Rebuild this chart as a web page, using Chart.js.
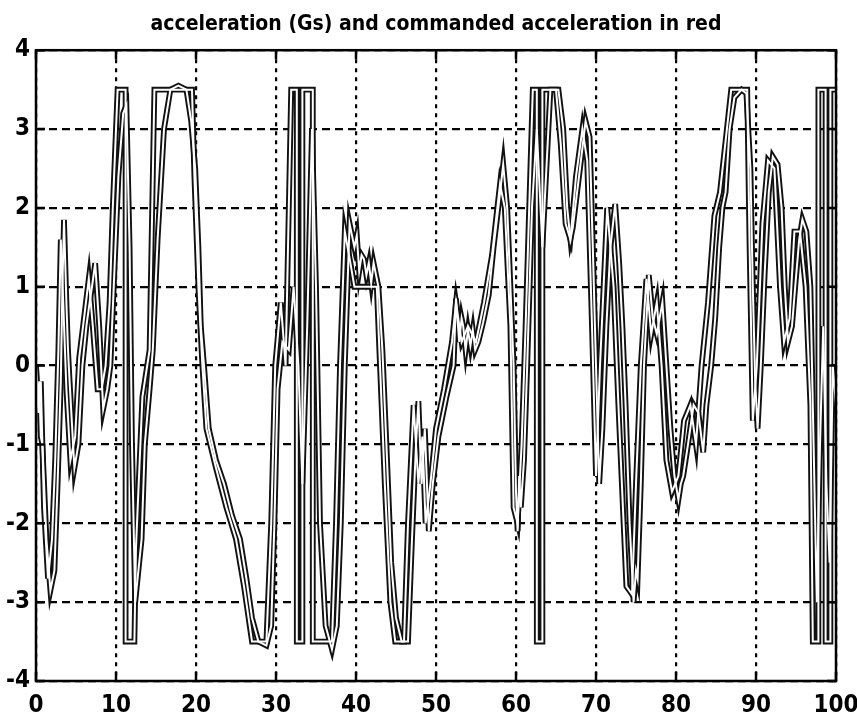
<!DOCTYPE html>
<html>
<head>
<meta charset="utf-8">
<script src="https://cdn.jsdelivr.net/npm/chart.js@4"></script>
<style>
  html, body { margin: 0; padding: 0; background: #fff; }
  #wrap { width: 857px; height: 717px; }
</style>
</head>
<body>
<div id="wrap"><canvas id="chart" width="857" height="717"></canvas></div>
<script>
const titleText = 'acceleration (Gs) and commanded acceleration in red';
const xTicks = [0, 10, 20, 30, 40, 50, 60, 70, 80, 90, 100];
const yTicks = [-4, -3, -2, -1, 0, 1, 2, 3, 4];

// commanded acceleration (saturates at +/-3.5)
const cmdX = [0, 0.3, 0.6, 1.0, 1.5, 2.0, 2.4, 2.8, 3.1, 3.4, 3.8, 4.3, 4.9, 5.4, 6.0, 6.6, 7.1, 7.7, 8.2, 8.7,
  9.2, 9.6, 10.2, 11.2, 11.2, 12.3, 12.5, 13.3, 14.2, 14.8, 19.5, 19.8, 20.3, 20.8, 21.3, 22.5, 23.8, 25.0, 26.0, 27.0,
  28.8, 29.4, 29.9, 30.6, 31.2, 31.9, 32.6, 32.6, 33.3, 33.3, 34.6, 34.6, 37.0, 37.5, 38.0, 38.6, 39.3, 39.8, 42.6, 43.0,
  43.6, 44.3, 44.9, 46.0, 46.5, 47.2, 47.8, 48.3, 48.7, 49.3, 50.0, 51.0, 52.0, 52.5, 53.2, 54.0, 55.0, 56.0, 57.0, 58.0,
  58.6, 59.3, 59.7, 60.2, 60.7, 61.2, 62.1, 62.6, 62.6, 63.3, 63.3, 65.0, 65.6, 66.2, 66.8, 67.5, 68.3, 68.9, 69.5, 70.0,
  70.5, 71.4, 72.2, 72.8, 73.8, 74.5, 75.0, 75.6, 76.3, 76.9, 77.6, 78.2, 78.8, 79.5, 80.3, 81.0, 81.8, 82.5, 83.2, 84.0,
  84.8, 85.5, 86.9, 88.9, 89.2, 89.6, 90.1, 90.8, 91.5, 92.3, 93.0, 93.5, 94.2, 94.8, 95.5, 96.2, 96.8, 97.1, 97.8, 97.8,
  98.7, 98.7, 99.3, 99.3, 100];
const cmdY = [0, -0.6, -0.2, -1.8, -2.7, -2.2, -1.2, 0.2, 1.6, 0.8, -0.3, -1.2, -0.9, 0.1, 0.6, 1.1, 0.5, -0.3, -0.3, 0,
  0.8, 2.0, 3.5, 3.5, -3.5, -3.5, -2.3, -0.4, 0.2, 3.5, 3.5, 2.4, 1.0, 0, -0.8, -1.3, -1.8, -2.2, -2.8, -3.5,
  -3.5, -2.0, 0, 0.8, 0, 3.5, 3.5, -3.5, -3.5, 3.5, 3.5, -3.5, -3.5, -2.0, 0, 1.7, 1.3, 1.0, 1.0, 0,
  -1.5, -3.0, -3.5, -3.5, -2.0, -0.5, -1.5, -0.9, -2.0, -1.5, -0.8, -0.3, 0.3, 0.8, 0.3, 0.5, 0.3, 0.8, 1.4, 2.3,
  2.0, 0.5, -1.8, -2.0, -1.0, 0.5, 3.5, 3.5, -3.5, -3.5, 3.5, 3.5, 2.8, 1.8, 1.6, 2.4, 3.0, 2.6, 0.5, -1.4,
  0, 2.0, 1.0, -0.5, -2.8, -2.9, -1.5, 0, 1.1, 0.4, 0.8, 0, -1.2, -1.6, -1.4, -0.7, -0.5, -1.0, 0, 0.8,
  1.9, 2.2, 3.5, 3.5, 1.5, -0.7, 0, 1.8, 2.6, 2.5, 1.0, 0.3, 0.6, 1.7, 1.7, 1.0, -0.5, -3.5, -3.5, 3.5,
  3.5, -3.5, -3.5, 3.5, 3.5];

// measured acceleration
const accX = [0, 0.2, 0.4, 0.6, 0.8, 1.3, 1.8, 2.3, 2.7, 3.1, 3.3, 3.5, 3.8, 4.0, 4.2, 4.8, 5.3, 5.8, 6.3, 6.7,
  7.0, 7.4, 7.9, 8.4, 8.9, 9.3, 9.8, 10.3, 10.9, 11.3, 11.7, 12.0, 12.4, 12.8, 13.2, 13.6, 14.2, 14.6, 15.2, 16.0,
  16.8, 17.8, 18.8, 19.4, 19.9, 20.3, 20.6, 21.0, 21.6, 22.5, 23.5, 24.5, 25.5, 26.3, 27.0, 27.8, 28.8, 29.4, 29.8, 30.2,
  30.8, 31.6, 32.2, 32.8, 33.3, 33.9, 34.5, 35.0, 35.5, 36.2, 37.0, 37.6, 38.1, 38.6, 39.2, 39.8, 40.1, 40.4, 40.7, 41.0,
  41.3, 41.6, 41.9, 42.2, 42.5, 42.8, 43.3, 43.8, 44.4, 45.0, 45.7, 46.5, 47.0, 47.5, 47.8, 48.2, 48.6, 49.1, 49.6, 50.3,
  51.3, 52.2, 52.5, 52.9, 53.2, 53.4, 53.7, 54.0, 54.3, 54.6, 54.9, 55.3, 55.9, 56.6, 57.2, 57.9, 58.4, 58.9, 59.3, 59.7,
  60.0, 60.2, 60.4, 60.6, 61.0, 61.4, 62.0, 62.6, 63.3, 63.8, 64.3, 65.3, 65.9, 66.4, 66.8, 67.1, 67.4, 68.0, 68.7, 69.2,
  69.6, 70.0, 70.4, 70.8, 71.3, 71.8, 72.4, 72.9, 73.3, 73.7, 74.2, 74.7, 75.0, 75.2, 75.6, 76.0, 76.6, 77.1, 77.6, 78.3,
  78.8, 79.3, 79.8, 80.3, 80.6, 80.9, 81.5, 82.2, 82.8, 83.4, 83.8, 84.4, 84.9, 85.4, 85.8, 86.2, 86.7, 87.3, 88.2, 88.8,
  89.3, 89.6, 89.9, 90.2, 90.6, 91.1, 91.6, 92.1, 92.7, 93.2, 93.6, 94.0, 94.5, 94.9, 95.4, 95.8, 96.3, 96.8, 97.2, 97.6,
  98.0, 98.4, 98.8, 99.2, 99.6, 100];
const accY = [0, -0.5, -0.2, -0.9, -1.0, -2.2, -2.85, -2.6, -1.5, -0.2, 1.0, 1.85, 0.8, 0.2, -0.2, -1.3, -1.0, 0, 0.5, 0.8,
  1.0, 1.3, 0.5, -0.55, -0.3, 0, 1.2, 2.4, 3.2, 3.3, 1.5, -1.0, -3.0, -2.6, -2.2, -1.0, -0.3, 0.2, 1.6, 3.0,
  3.5, 3.55, 3.5, 3.1, 2.5, 1.5, 0.5, 0, -0.8, -1.2, -1.5, -1.9, -2.2, -2.7, -3.2, -3.5, -3.55, -3.3, -2.0, -0.3,
  0.3, 0.2, 1.0, 0, -1.5, 0.5, 3.0, 1.0, -2.0, -3.3, -3.6, -3.3, -2.0, 0, 1.8, 1.5, 1.65, 1.2, 1.4, 1.35,
  1.15, 1.3, 1.05, 1.3, 1.15, 1.0, 0.2, -1.0, -2.5, -3.2, -3.5, -3.5, -2.2, -1.0, -0.45, -1.5, -0.8, -2.1, -1.5, -0.9,
  -0.4, 0, 0.85, 0.3, 0.6, 0.5, 0.2, 0.45, 0.25, 0.45, 0.2, 0.3, 0.55, 0.9, 1.5, 2.1, 2.55, 2.0, 1.0, 0,
  -1.6, -2.1, -1.4, -1.8, -1.2, 0, 2.0, 3.0, 1.5, 2.5, 3.5, 3.5, 3.0, 2.0, 1.6, 1.75, 2.0, 2.5, 3.1, 2.9,
  1.5, 0, -1.5, -0.8, 0.5, 1.5, 2.05, 1.3, 0.5, -0.5, -2.0, -3.0, -2.6, -2.7, -1.5, 0, 1.15, 0.6, 0.4, 0.8,
  0, -0.8, -1.4, -1.7, -1.5, -1.4, -1.0, -0.5, -0.6, -1.1, -0.5, 0, 0.6, 1.5, 2.0, 2.2, 3.0, 3.4, 3.5, 3.45,
  2.5, 1.0, -0.2, -0.8, 0, 1.2, 2.2, 2.65, 2.55, 2.0, 1.0, 0.3, 0.5, 1.0, 1.6, 1.85, 1.7, 1.0, -1.0, -3.0,
  -1.0, 0.5, -1.5, -2.5, 0, -0.5];

const pts = (xs, ys) => xs.map((x, i) => ({ x, y: ys[i] }));

const fontFam = '"Liberation Sans Narrow", "DejaVu Sans Condensed", "Liberation Sans", Arial, sans-serif';

// one dark wide stroke + a thin white stroke on top gives the hollow scanned line
function lineSet(data, color, width, order) {
  return {
    data,
    borderColor: color,
    borderWidth: width,
    pointRadius: 0,
    tension: 0,
    fill: false,
    order,
    borderJoinStyle: 'miter',
    borderCapStyle: 'butt'
  };
}

// axes box and inward tick marks, matlab style
const boxPlugin = {
  id: 'box',
  afterDatasetsDraw(chart) {
    const { ctx, chartArea: a, scales } = chart;
    ctx.save();
    ctx.strokeStyle = '#000';
    ctx.lineWidth = 2.5;
    ctx.setLineDash([]);
    ctx.strokeRect(a.left, a.top, a.right - a.left, a.bottom - a.top);
    ctx.beginPath();
    xTicks.forEach((v) => {
      const px = scales.x.getPixelForValue(v);
      ctx.moveTo(px, a.bottom); ctx.lineTo(px, a.bottom - 9);
      ctx.moveTo(px, a.top); ctx.lineTo(px, a.top + 9);
    });
    yTicks.forEach((v) => {
      const py = scales.y.getPixelForValue(v);
      ctx.moveTo(a.left, py); ctx.lineTo(a.left + 9, py);
      ctx.moveTo(a.right, py); ctx.lineTo(a.right - 9, py);
    });
    ctx.stroke();
    ctx.restore();
  }
};

new Chart(document.getElementById('chart'), {
  type: 'line',
  data: {
    datasets: [
      lineSet(pts(cmdX, cmdY), '#fff', 2, 0),
      lineSet(pts(accX, accY), '#fff', 2, 0),
      lineSet(pts(cmdX, cmdY), '#111', 5.8, 1),
      lineSet(pts(accX, accY), '#111', 5.8, 1)
    ]
  },
  options: {
    responsive: false,
    animation: false,
    layout: { padding: { left: 0, right: 21, top: 0, bottom: 0 } },
    scales: {
      x: {
        type: 'linear',
        min: 0,
        max: 100,
        afterFit: (s) => { s.height = 36; s.paddingLeft = 0; s.paddingRight = 0; },
        afterBuildTicks: (s) => { s.ticks = xTicks.map((v) => ({ value: v })); },
        ticks: { color: '#000', padding: 10, font: { family: fontFam, size: 24, weight: 'bold' } },
        grid: { color: '#000', lineWidth: 2.2, drawTicks: false },
        border: { display: false, dash: [4, 5] }
      },
      y: {
        min: -4,
        max: 4,
        afterFit: (s) => { s.width = 36; s.paddingTop = 0; s.paddingBottom = 0; },
        afterBuildTicks: (s) => { s.ticks = yTicks.map((v) => ({ value: v })); },
        ticks: { color: '#000', padding: 6, font: { family: fontFam, size: 24, weight: 'bold' } },
        grid: { color: '#000', lineWidth: 2.2, drawTicks: false },
        border: { display: false, dash: [8, 5] }
      }
    },
    plugins: {
      legend: { display: false },
      tooltip: { enabled: false },
      title: {
        display: true,
        fullSize: false,
        text: titleText,
        color: '#000',
        font: { family: fontFam, size: 21, weight: 'bold', lineHeight: 1.2 },
        padding: { top: 12, bottom: 13 }
      }
    }
  },
  plugins: [boxPlugin]
});
</script>
</body>
</html>
